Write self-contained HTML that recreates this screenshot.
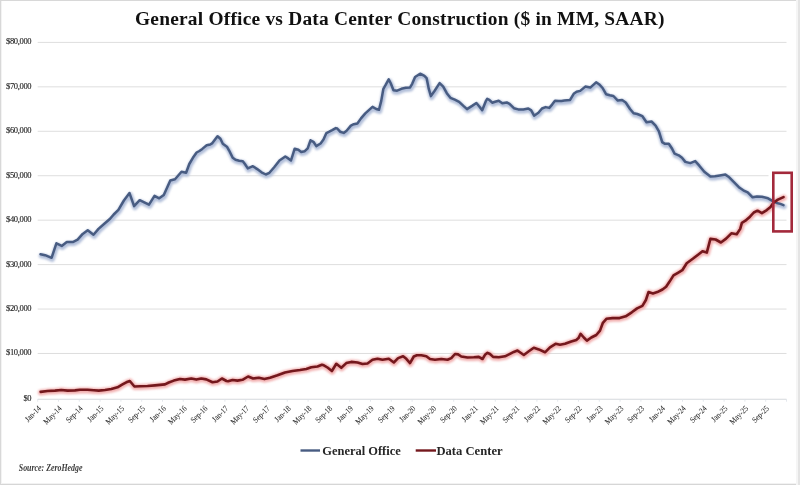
<!DOCTYPE html>
<html><head><meta charset="utf-8"><title>General Office vs Data Center Construction</title>
<style>
html,body{margin:0;padding:0;background:#fff;}
body{width:800px;height:485px;overflow:hidden;position:relative;}
svg{position:absolute;left:0;top:0;}
text{font-family:"Liberation Serif",serif;fill:#222;}
.yl{font-size:8.5px;fill:#1e1e1e;stroke:#1e1e1e;stroke-width:0.12px;letter-spacing:-0.35px;}
.xl{font-size:8.3px;fill:#2a2a2a;stroke:#2a2a2a;stroke-width:0.05px;}
.lg{font-size:12.4px;font-weight:bold;fill:#262626;}
.src{font-size:9.5px;font-style:italic;font-weight:bold;fill:#3a3a3a;}
.title{font-size:19.4px;font-weight:bold;fill:#111;}
</style></head>
<body>
<svg width="800" height="485" viewBox="0 0 800 485">
<rect x="0" y="0" width="800" height="1" fill="#d8d8d8"/><rect x="0" y="484" width="800" height="1" fill="#d6d6d6"/><rect x="0" y="483" width="800" height="1" fill="#f2f2f2"/><rect x="0" y="0" width="1" height="485" fill="#d8d8d8"/><rect x="1" y="1" width="1" height="483" fill="#f3f3f3"/><rect x="798" y="0" width="2" height="485" fill="#e4e4e4"/><rect x="796" y="0" width="2" height="485" fill="#f5f5f5"/>
<defs><filter id="bsh" x="-5%" y="-5%" width="110%" height="110%"><feGaussianBlur stdDeviation="1.2"/></filter><filter id="rsh" x="-5%" y="-5%" width="110%" height="110%"><feGaussianBlur stdDeviation="0.9"/></filter></defs>
<line x1="37.7" y1="353.48" x2="786.5" y2="353.48" stroke="#dedede" stroke-width="1"/>
<line x1="37.7" y1="309.04" x2="786.5" y2="309.04" stroke="#dedede" stroke-width="1"/>
<line x1="37.7" y1="264.60" x2="786.5" y2="264.60" stroke="#dedede" stroke-width="1"/>
<line x1="37.7" y1="220.16" x2="786.5" y2="220.16" stroke="#dedede" stroke-width="1"/>
<line x1="37.7" y1="175.72" x2="768.5" y2="175.72" stroke="#dedede" stroke-width="1"/>
<line x1="37.7" y1="131.28" x2="786.5" y2="131.28" stroke="#dedede" stroke-width="1"/>
<line x1="37.7" y1="86.84" x2="786.5" y2="86.84" stroke="#dedede" stroke-width="1"/>
<line x1="37.7" y1="42.40" x2="786.5" y2="42.40" stroke="#dedede" stroke-width="1"/>
<line x1="37.7" y1="399.2" x2="786.5" y2="399.2" stroke="#d5d8dc" stroke-width="1.1"/>
<line x1="37.7" y1="399.2" x2="37.7" y2="401.7" stroke="#dde2e8" stroke-width="0.8"/>
<line x1="58.5" y1="399.2" x2="58.5" y2="401.7" stroke="#dde2e8" stroke-width="0.8"/>
<line x1="79.3" y1="399.2" x2="79.3" y2="401.7" stroke="#dde2e8" stroke-width="0.8"/>
<line x1="100.1" y1="399.2" x2="100.1" y2="401.7" stroke="#dde2e8" stroke-width="0.8"/>
<line x1="120.9" y1="399.2" x2="120.9" y2="401.7" stroke="#dde2e8" stroke-width="0.8"/>
<line x1="141.7" y1="399.2" x2="141.7" y2="401.7" stroke="#dde2e8" stroke-width="0.8"/>
<line x1="162.5" y1="399.2" x2="162.5" y2="401.7" stroke="#dde2e8" stroke-width="0.8"/>
<line x1="183.3" y1="399.2" x2="183.3" y2="401.7" stroke="#dde2e8" stroke-width="0.8"/>
<line x1="204.1" y1="399.2" x2="204.1" y2="401.7" stroke="#dde2e8" stroke-width="0.8"/>
<line x1="224.9" y1="399.2" x2="224.9" y2="401.7" stroke="#dde2e8" stroke-width="0.8"/>
<line x1="245.7" y1="399.2" x2="245.7" y2="401.7" stroke="#dde2e8" stroke-width="0.8"/>
<line x1="266.5" y1="399.2" x2="266.5" y2="401.7" stroke="#dde2e8" stroke-width="0.8"/>
<line x1="287.3" y1="399.2" x2="287.3" y2="401.7" stroke="#dde2e8" stroke-width="0.8"/>
<line x1="308.1" y1="399.2" x2="308.1" y2="401.7" stroke="#dde2e8" stroke-width="0.8"/>
<line x1="328.9" y1="399.2" x2="328.9" y2="401.7" stroke="#dde2e8" stroke-width="0.8"/>
<line x1="349.7" y1="399.2" x2="349.7" y2="401.7" stroke="#dde2e8" stroke-width="0.8"/>
<line x1="370.5" y1="399.2" x2="370.5" y2="401.7" stroke="#dde2e8" stroke-width="0.8"/>
<line x1="391.3" y1="399.2" x2="391.3" y2="401.7" stroke="#dde2e8" stroke-width="0.8"/>
<line x1="412.1" y1="399.2" x2="412.1" y2="401.7" stroke="#dde2e8" stroke-width="0.8"/>
<line x1="432.9" y1="399.2" x2="432.9" y2="401.7" stroke="#dde2e8" stroke-width="0.8"/>
<line x1="453.7" y1="399.2" x2="453.7" y2="401.7" stroke="#dde2e8" stroke-width="0.8"/>
<line x1="474.5" y1="399.2" x2="474.5" y2="401.7" stroke="#dde2e8" stroke-width="0.8"/>
<line x1="495.3" y1="399.2" x2="495.3" y2="401.7" stroke="#dde2e8" stroke-width="0.8"/>
<line x1="516.1" y1="399.2" x2="516.1" y2="401.7" stroke="#dde2e8" stroke-width="0.8"/>
<line x1="536.9" y1="399.2" x2="536.9" y2="401.7" stroke="#dde2e8" stroke-width="0.8"/>
<line x1="557.7" y1="399.2" x2="557.7" y2="401.7" stroke="#dde2e8" stroke-width="0.8"/>
<line x1="578.5" y1="399.2" x2="578.5" y2="401.7" stroke="#dde2e8" stroke-width="0.8"/>
<line x1="599.3" y1="399.2" x2="599.3" y2="401.7" stroke="#dde2e8" stroke-width="0.8"/>
<line x1="620.1" y1="399.2" x2="620.1" y2="401.7" stroke="#dde2e8" stroke-width="0.8"/>
<line x1="640.9" y1="399.2" x2="640.9" y2="401.7" stroke="#dde2e8" stroke-width="0.8"/>
<line x1="661.7" y1="399.2" x2="661.7" y2="401.7" stroke="#dde2e8" stroke-width="0.8"/>
<line x1="682.5" y1="399.2" x2="682.5" y2="401.7" stroke="#dde2e8" stroke-width="0.8"/>
<line x1="703.3" y1="399.2" x2="703.3" y2="401.7" stroke="#dde2e8" stroke-width="0.8"/>
<line x1="724.1" y1="399.2" x2="724.1" y2="401.7" stroke="#dde2e8" stroke-width="0.8"/>
<line x1="744.9" y1="399.2" x2="744.9" y2="401.7" stroke="#dde2e8" stroke-width="0.8"/>
<line x1="765.7" y1="399.2" x2="765.7" y2="401.7" stroke="#dde2e8" stroke-width="0.8"/>
<line x1="786.5" y1="399.2" x2="786.5" y2="401.7" stroke="#dde2e8" stroke-width="0.8"/>
<text x="31.2" y="401.1" text-anchor="end" class="yl">$0</text>
<text x="31.2" y="355.4" text-anchor="end" class="yl">$10,000</text>
<text x="31.2" y="310.9" text-anchor="end" class="yl">$20,000</text>
<text x="31.2" y="266.5" text-anchor="end" class="yl">$30,000</text>
<text x="31.2" y="222.1" text-anchor="end" class="yl">$40,000</text>
<text x="31.2" y="177.6" text-anchor="end" class="yl">$50,000</text>
<text x="31.2" y="133.2" text-anchor="end" class="yl">$60,000</text>
<text x="31.2" y="88.7" text-anchor="end" class="yl">$70,000</text>
<text x="31.2" y="44.3" text-anchor="end" class="yl">$80,000</text>
<text transform="translate(41.6,409.0) rotate(-45) scale(0.86,1)" text-anchor="end" class="xl">Jan-14</text>
<text transform="translate(62.4,409.0) rotate(-45) scale(0.86,1)" text-anchor="end" class="xl">May-14</text>
<text transform="translate(83.2,409.0) rotate(-45) scale(0.86,1)" text-anchor="end" class="xl">Sep-14</text>
<text transform="translate(104.0,409.0) rotate(-45) scale(0.86,1)" text-anchor="end" class="xl">Jan-15</text>
<text transform="translate(124.8,409.0) rotate(-45) scale(0.86,1)" text-anchor="end" class="xl">May-15</text>
<text transform="translate(145.6,409.0) rotate(-45) scale(0.86,1)" text-anchor="end" class="xl">Sep-15</text>
<text transform="translate(166.4,409.0) rotate(-45) scale(0.86,1)" text-anchor="end" class="xl">Jan-16</text>
<text transform="translate(187.2,409.0) rotate(-45) scale(0.86,1)" text-anchor="end" class="xl">May-16</text>
<text transform="translate(208.0,409.0) rotate(-45) scale(0.86,1)" text-anchor="end" class="xl">Sep-16</text>
<text transform="translate(228.8,409.0) rotate(-45) scale(0.86,1)" text-anchor="end" class="xl">Jan-17</text>
<text transform="translate(249.6,409.0) rotate(-45) scale(0.86,1)" text-anchor="end" class="xl">May-17</text>
<text transform="translate(270.4,409.0) rotate(-45) scale(0.86,1)" text-anchor="end" class="xl">Sep-17</text>
<text transform="translate(291.2,409.0) rotate(-45) scale(0.86,1)" text-anchor="end" class="xl">Jan-18</text>
<text transform="translate(312.0,409.0) rotate(-45) scale(0.86,1)" text-anchor="end" class="xl">May-18</text>
<text transform="translate(332.8,409.0) rotate(-45) scale(0.86,1)" text-anchor="end" class="xl">Sep-18</text>
<text transform="translate(353.6,409.0) rotate(-45) scale(0.86,1)" text-anchor="end" class="xl">Jan-19</text>
<text transform="translate(374.4,409.0) rotate(-45) scale(0.86,1)" text-anchor="end" class="xl">May-19</text>
<text transform="translate(395.2,409.0) rotate(-45) scale(0.86,1)" text-anchor="end" class="xl">Sep-19</text>
<text transform="translate(416.0,409.0) rotate(-45) scale(0.86,1)" text-anchor="end" class="xl">Jan-20</text>
<text transform="translate(436.8,409.0) rotate(-45) scale(0.86,1)" text-anchor="end" class="xl">May-20</text>
<text transform="translate(457.6,409.0) rotate(-45) scale(0.86,1)" text-anchor="end" class="xl">Sep-20</text>
<text transform="translate(478.4,409.0) rotate(-45) scale(0.86,1)" text-anchor="end" class="xl">Jan-21</text>
<text transform="translate(499.2,409.0) rotate(-45) scale(0.86,1)" text-anchor="end" class="xl">May-21</text>
<text transform="translate(520.0,409.0) rotate(-45) scale(0.86,1)" text-anchor="end" class="xl">Sep-21</text>
<text transform="translate(540.8,409.0) rotate(-45) scale(0.86,1)" text-anchor="end" class="xl">Jan-22</text>
<text transform="translate(561.6,409.0) rotate(-45) scale(0.86,1)" text-anchor="end" class="xl">May-22</text>
<text transform="translate(582.4,409.0) rotate(-45) scale(0.86,1)" text-anchor="end" class="xl">Sep-22</text>
<text transform="translate(603.2,409.0) rotate(-45) scale(0.86,1)" text-anchor="end" class="xl">Jan-23</text>
<text transform="translate(624.0,409.0) rotate(-45) scale(0.86,1)" text-anchor="end" class="xl">May-23</text>
<text transform="translate(644.8,409.0) rotate(-45) scale(0.86,1)" text-anchor="end" class="xl">Sep-23</text>
<text transform="translate(665.6,409.0) rotate(-45) scale(0.86,1)" text-anchor="end" class="xl">Jan-24</text>
<text transform="translate(686.4,409.0) rotate(-45) scale(0.86,1)" text-anchor="end" class="xl">May-24</text>
<text transform="translate(707.2,409.0) rotate(-45) scale(0.86,1)" text-anchor="end" class="xl">Sep-24</text>
<text transform="translate(728.0,409.0) rotate(-45) scale(0.86,1)" text-anchor="end" class="xl">Jan-25</text>
<text transform="translate(748.8,409.0) rotate(-45) scale(0.86,1)" text-anchor="end" class="xl">May-25</text>
<text transform="translate(769.6,409.0) rotate(-45) scale(0.86,1)" text-anchor="end" class="xl">Sep-25</text>
<polyline points="41.2,255.8 45.8,256.8 52.3,259.4 57.1,244.9 62.4,247.5 67.5,243.5 74.0,243.5 78.3,241.3 83.4,235.5 88.4,231.9 94.2,236.3 99.2,230.5 105.0,225.4 110.8,220.4 114.4,216.1 119.1,211.4 124.6,202.1 130.2,194.7 134.8,207.7 140.4,201.8 146.0,204.4 149.7,206.2 155.2,197.5 159.9,199.9 164.5,196.6 171.0,182.1 175.7,180.8 182.2,173.4 186.8,174.3 190.0,165.6 193.6,159.4 197.3,154.1 200.1,152.6 203.0,150.5 207.4,146.9 211.0,146.1 213.1,144.7 218.2,137.8 221.1,140.4 223.5,145.4 227.6,148.3 229.7,151.9 233.4,159.4 236.2,161.3 239.9,162.3 243.5,162.8 245.6,165.6 248.5,170.0 253.6,167.8 257.9,170.7 262.2,173.9 266.5,176.1 270.1,174.4 275.1,168.6 280.2,162.1 286.0,158.1 288.9,160.0 291.7,162.1 295.4,150.3 299.0,151.3 301.9,153.5 305.5,152.8 308.4,149.9 311.2,141.9 314.1,143.4 317.0,147.7 321.3,145.1 324.2,141.2 327.1,134.7 330.0,133.3 332.9,131.8 336.5,129.7 337.9,130.1 340.8,133.3 344.4,134.5 347.3,132.3 351.6,127.2 354.5,125.8 358.1,125.1 361.7,120.0 366.0,115.0 369.6,111.7 373.2,108.5 376.9,110.6 379.7,111.4 381.9,102.7 384.1,90.4 386.2,86.8 389.4,81.0 391.3,84.6 394.2,91.9 397.8,92.3 402.1,90.4 406.5,89.4 410.8,89.0 412.9,85.4 415.8,78.6 420.8,75.3 425.1,77.5 427.3,79.7 429.5,90.5 431.6,97.7 435.2,92.6 440.3,84.7 443.9,88.3 447.5,94.8 451.1,99.4 455.5,101.3 459.8,103.5 464.1,107.5 467.7,110.7 472.8,107.5 477.1,104.6 480.0,108.1 482.9,111.9 486.5,102.8 487.9,100.4 490.0,101.4 492.9,104.3 495.8,103.3 499.4,102.3 503.0,104.8 507.4,104.0 510.2,105.5 514.6,109.8 518.9,111.0 524.0,111.0 529.0,110.1 531.9,112.0 534.8,117.3 539.1,114.4 542.7,110.1 546.3,108.7 550.0,109.5 552.8,106.2 555.7,102.3 559.3,102.6 562.2,102.6 565.0,102.2 570.8,101.5 574.4,95.4 577.3,93.3 580.9,92.5 586.0,88.2 591.0,89.2 596.8,83.9 599.7,85.8 603.3,89.6 606.9,95.9 610.5,96.9 614.1,97.6 618.5,102.2 622.8,101.6 626.4,104.1 630.7,110.6 634.3,114.9 638.0,115.6 643.1,117.8 647.2,123.9 652.2,123.1 656.3,127.2 659.6,133.0 662.9,143.7 665.4,145.4 669.5,145.4 672.8,150.3 675.3,155.3 679.4,156.9 682.7,159.4 686.0,163.5 691.0,164.7 695.9,162.7 700.0,167.3 705.0,173.4 711.1,178.1 715.6,177.9 720.5,177.1 726.1,176.2 729.2,178.3 732.9,182.0 736.6,185.7 740.3,189.4 744.0,191.9 748.4,194.0 753.3,198.9 757.6,198.1 762.6,198.4 768.7,199.9 773.1,202.4 777.4,204.6 781.1,205.5 784.2,206.7" fill="none" stroke="#b3c0da" stroke-width="5" stroke-linejoin="round" stroke-linecap="round" filter="url(#bsh)"/>
<polyline points="40.9,392.5 47.8,391.6 55.3,391.2 61.6,390.6 67.8,391.2 75.3,391.0 80.3,390.4 87.8,390.4 94.1,390.9 99.1,391.2 105.3,390.6 111.6,389.6 117.8,387.9 122.8,385.0 126.6,382.9 130.1,381.6 132.2,384.1 134.7,387.1 140.3,386.9 147.8,386.6 155.3,386.0 165.3,385.0 169.1,383.1 174.1,381.2 180.3,379.6 185.3,380.2 191.6,379.1 196.6,380.2 201.6,379.1 206.6,380.0 212.8,382.9 217.8,382.1 222.2,379.1 226.8,381.6 228.4,381.9 232.8,380.6 237.8,381.2 242.8,380.4 248.4,377.1 253.4,379.1 259.1,378.4 264.7,379.7 270.3,378.4 277.8,375.9 285.3,373.1 292.8,371.6 300.3,370.6 306.6,369.6 311.6,367.9 317.8,367.1 322.2,365.4 324.1,365.9 327.8,368.1 332.2,371.6 336.6,364.4 341.6,368.4 346.6,363.7 351.6,362.5 357.8,363.1 362.8,364.6 367.8,364.1 372.8,360.4 377.8,359.4 382.8,360.4 389.1,359.4 394.1,363.1 398.4,358.7 403.4,356.9 406.6,359.4 410.3,363.7 414.1,357.1 417.2,355.9 421.6,355.9 426.6,356.9 430.3,359.6 435.3,360.4 441.6,359.6 447.8,360.4 451.6,358.7 455.3,354.6 458.4,355.0 461.6,357.1 467.8,358.1 474.1,357.9 479.1,357.5 482.8,359.6 485.3,355.4 487.8,353.4 490.3,354.6 493.4,357.5 499.1,357.9 505.3,356.9 510.3,354.4 514.1,352.5 517.8,351.2 520.9,353.4 524.1,355.6 529.1,351.9 534.1,348.4 539.1,350.0 545.3,352.9 550.3,347.9 555.9,344.4 560.3,345.4 565.3,344.4 571.6,342.1 576.6,340.6 578.8,338.7 580.9,334.4 584.1,338.1 587.2,341.2 591.6,338.1 596.6,335.6 600.3,331.2 603.2,323.4 606.7,319.4 612.8,318.7 619.9,318.7 626.0,316.9 632.1,312.9 637.4,309.0 642.7,306.4 646.2,300.6 648.8,292.7 653.2,294.1 657.6,292.7 662.8,290.1 666.4,287.4 669.9,282.2 673.8,276.0 678.2,273.4 682.6,270.8 687.0,263.8 693.1,259.4 698.4,255.3 702.8,251.8 707.1,253.2 710.7,239.5 715.9,240.1 721.2,243.1 726.4,239.2 731.7,233.9 737.0,234.8 740.5,229.5 742.2,223.4 745.7,221.3 750.3,217.3 754.1,213.1 757.8,211.3 762.2,213.8 767.1,210.7 770.8,207.6 773.9,203.2 778.2,200.2 783.8,197.7" fill="none" stroke="#f2b0b0" stroke-width="6" stroke-linejoin="round" stroke-linecap="round" filter="url(#rsh)"/>
<polyline points="40.5,254.2 45.1,255.2 51.6,257.8 56.4,243.3 61.7,245.9 66.8,241.9 73.3,241.9 77.6,239.7 82.7,233.9 87.7,230.3 93.5,234.7 98.5,228.9 104.3,223.8 110.1,218.8 113.7,214.5 118.4,209.8 123.9,200.5 129.5,193.1 134.1,206.1 139.7,200.2 145.3,202.8 149.0,204.6 154.5,195.9 159.2,198.3 163.8,195.0 170.3,180.5 175.0,179.2 181.5,171.8 186.1,172.7 189.3,164.0 192.9,157.8 196.6,152.5 199.4,151.0 202.3,148.9 206.7,145.3 210.3,144.5 212.4,143.1 217.5,136.2 220.4,138.8 222.8,143.8 226.9,146.7 229.0,150.3 232.7,157.8 235.5,159.7 239.2,160.7 242.8,161.2 244.9,164.0 247.8,168.4 252.9,166.2 257.2,169.1 261.5,172.3 265.8,174.5 269.4,172.8 274.4,167.0 279.5,160.5 285.3,156.5 288.2,158.4 291.0,160.5 294.7,148.7 298.3,149.7 301.2,151.9 304.8,151.2 307.7,148.3 310.5,140.3 313.4,141.8 316.3,146.1 320.6,143.5 323.5,139.6 326.4,133.1 329.3,131.7 332.2,130.2 335.8,128.1 337.2,128.5 340.1,131.7 343.7,132.9 346.6,130.7 350.9,125.6 353.8,124.2 357.4,123.5 361.0,118.4 365.3,113.4 368.9,110.1 372.5,106.9 376.2,109.0 379.0,109.8 381.2,101.1 383.4,88.8 385.5,85.2 388.7,79.4 390.6,83.0 393.5,90.3 397.1,90.7 401.4,88.8 405.8,87.8 410.1,87.4 412.2,83.8 415.1,77.0 420.1,73.7 424.4,75.9 426.6,78.1 428.8,88.9 430.9,96.1 434.5,91.0 439.6,83.1 443.2,86.7 446.8,93.2 450.4,97.8 454.8,99.7 459.1,101.9 463.4,105.9 467.0,109.1 472.1,105.9 476.4,103.0 479.3,106.5 482.2,110.3 485.8,101.2 487.2,98.8 489.3,99.8 492.2,102.7 495.1,101.7 498.7,100.7 502.3,103.2 506.7,102.4 509.5,103.9 513.9,108.2 518.2,109.4 523.3,109.4 528.3,108.5 531.2,110.4 534.1,115.7 538.4,112.8 542.0,108.5 545.6,107.1 549.3,107.9 552.1,104.6 555.0,100.7 558.6,101.0 561.5,101.0 564.3,100.6 570.1,99.9 573.7,93.8 576.6,91.7 580.2,90.9 585.3,86.6 590.3,87.6 596.1,82.3 599.0,84.2 602.6,88.0 606.2,94.3 609.8,95.3 613.4,96.0 617.8,100.6 622.1,100.0 625.7,102.5 630.0,109.0 633.6,113.3 637.3,114.0 642.4,116.2 646.5,122.3 651.5,121.5 655.6,125.6 658.9,131.4 662.2,142.1 664.7,143.8 668.8,143.8 672.1,148.7 674.6,153.7 678.7,155.3 682.0,157.8 685.3,161.9 690.3,163.1 695.2,161.1 699.3,165.7 704.3,171.8 710.4,176.5 714.9,176.3 719.8,175.5 725.4,174.6 728.5,176.7 732.2,180.4 735.9,184.1 739.6,187.8 743.3,190.3 747.7,192.4 752.6,197.3 756.9,196.5 761.9,196.8 768.0,198.3 772.4,200.8 776.7,203.0 780.4,203.9 783.5,205.1" fill="none" stroke="#485c82" stroke-width="2.5" stroke-linejoin="round" stroke-linecap="round"/>
<polyline points="40.6,391.9 47.5,391.0 55.0,390.6 61.3,390.0 67.5,390.6 75.0,390.4 80.0,389.8 87.5,389.8 93.8,390.3 98.8,390.6 105.0,390.0 111.3,389.0 117.5,387.3 122.5,384.4 126.3,382.3 129.8,381.0 131.9,383.5 134.4,386.5 140.0,386.3 147.5,386.0 155.0,385.4 165.0,384.4 168.8,382.5 173.8,380.6 180.0,379.0 185.0,379.6 191.3,378.5 196.3,379.6 201.3,378.5 206.3,379.4 212.5,382.3 217.5,381.5 221.9,378.5 226.5,381.0 228.1,381.3 232.5,380.0 237.5,380.6 242.5,379.8 248.1,376.5 253.1,378.5 258.8,377.8 264.4,379.1 270.0,377.8 277.5,375.3 285.0,372.5 292.5,371.0 300.0,370.0 306.3,369.0 311.3,367.3 317.5,366.5 321.9,364.8 323.8,365.3 327.5,367.5 331.9,371.0 336.3,363.8 341.3,367.8 346.3,363.1 351.3,361.9 357.5,362.5 362.5,364.0 367.5,363.5 372.5,359.8 377.5,358.8 382.5,359.8 388.8,358.8 393.8,362.5 398.1,358.1 403.1,356.3 406.3,358.8 410.0,363.1 413.8,356.5 416.9,355.3 421.3,355.3 426.3,356.3 430.0,359.0 435.0,359.8 441.3,359.0 447.5,359.8 451.3,358.1 455.0,354.0 458.1,354.4 461.3,356.5 467.5,357.5 473.8,357.3 478.8,356.9 482.5,359.0 485.0,354.8 487.5,352.8 490.0,354.0 493.1,356.9 498.8,357.3 505.0,356.3 510.0,353.8 513.8,351.9 517.5,350.6 520.6,352.8 523.8,355.0 528.8,351.3 533.8,347.8 538.8,349.4 545.0,352.3 550.0,347.3 555.6,343.8 560.0,344.8 565.0,343.8 571.3,341.5 576.3,340.0 578.5,338.1 580.6,333.8 583.8,337.5 586.9,340.6 591.3,337.5 596.3,335.0 600.0,330.6 602.9,322.8 606.4,318.8 612.5,318.1 619.6,318.1 625.7,316.3 631.8,312.3 637.1,308.4 642.4,305.8 645.9,300.0 648.5,292.1 652.9,293.5 657.3,292.1 662.5,289.5 666.1,286.8 669.6,281.6 673.5,275.4 677.9,272.8 682.3,270.2 686.7,263.2 692.8,258.8 698.1,254.7 702.5,251.2 706.8,252.6 710.4,238.9 715.6,239.5 720.9,242.5 726.1,238.6 731.4,233.3 736.7,234.2 740.2,228.9 741.9,222.8 745.4,220.7 750.0,216.7 753.8,212.5 757.5,210.7 761.9,213.2 766.8,210.1 770.5,207.0 773.6,202.6 777.9,199.6 783.5,197.1" fill="none" stroke="#74181d" stroke-width="2.6" stroke-linejoin="round" stroke-linecap="round"/>
<rect x="773.3" y="172.8" width="18.4" height="58.6" fill="none" stroke="#a3293b" stroke-width="2.6"/>
<line x1="300.5" y1="450.5" x2="320" y2="450.5" stroke="#485c82" stroke-width="2.4"/>
<text x="322.3" y="454.5" class="lg" textLength="78.5" lengthAdjust="spacingAndGlyphs">General Office</text>
<line x1="415.7" y1="450.5" x2="436" y2="450.5" stroke="#74181d" stroke-width="2.4"/>
<text x="436.4" y="454.5" class="lg" textLength="66.2" lengthAdjust="spacingAndGlyphs">Data Center</text>
<text x="18.8" y="470.8" class="src" textLength="63.7" lengthAdjust="spacingAndGlyphs">Source: ZeroHedge</text>
<text x="135" y="24.8" class="title" textLength="529.5" lengthAdjust="spacing">General Office vs Data Center Construction ($ in MM, SAAR)</text>
</svg>
</body></html>
